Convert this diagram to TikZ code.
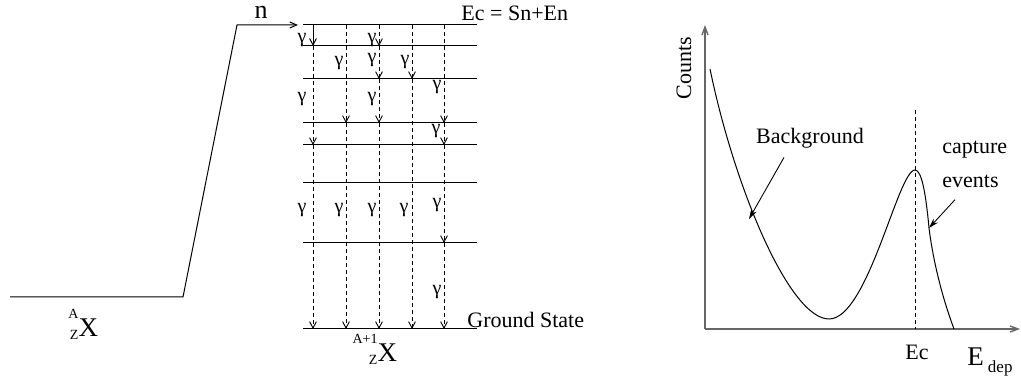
\documentclass[tikz,border=0pt]{standalone}
\usepackage{fontspec}
\setmainfont{Liberation Serif}
\usetikzlibrary{arrows.meta,positioning}

\newcommand{\isotope}[2]{{\fontsize{7}{8}\selectfont\raisebox{-1.5pt}{#2}\llap{\raisebox{9pt}{#1}}}X}

\begin{document}
\begin{tikzpicture}[x=0.5pt,y=-0.5pt,
  lbl/.style={font=\fontsize{11}{13}\selectfont,inner sep=0pt},
  gam/.style={font=\fontsize{10}{11}\selectfont,inner sep=0pt},
  level/.style={line width=0.5pt},
  gtrans/.style={line width=0.45pt,dash pattern=on 2pt off 1.5pt,-{Straight Barb[length=3.2pt,width=3.4pt]}},
  axis/.style={line width=0.7pt,black!60,-{Straight Barb[length=4pt,width=3pt]}},
  ptr/.style={line width=0.45pt,-{Stealth[length=5pt,width=3pt]}}]
\useasboundingbox (0,0) rectangle (1021,378);

% Target nucleus and incoming neutron
\coordinate (bw) at (10,297);
\coordinate (be) at (183,297);
\coordinate (bt) at (237,25);
\coordinate (nt) at (298,25);
\draw[level,-{Straight Barb[length=3.5pt,width=3pt]}] (bw) -- (be) -- (bt) -- (nt);
\node[font=\fontsize{13}{15}\selectfont,inner sep=0pt] (n) at (261,12) {n};
\node[font=\fontsize{13.5}{16}\selectfont,inner sep=0pt] (tgt) at (84,324) {\isotope{A}{Z}};

% Levels of the compound nucleus
\coordinate (L1) at (303,25);
\coordinate (L2) at (303,46);
\coordinate (L3) at (303,79);
\coordinate (L4) at (303,123);
\coordinate (L5) at (303,145);
\coordinate (L6) at (303,183);
\coordinate (L7) at (303,243);
\coordinate (L8) at (303,329);
\draw[level] (L1) -- ++(174,0);
\draw[level] (L2) -- ++(174,0);
\draw[level] (L3) -- ++(174,0);
\draw[level] (L4) -- ++(174,0);
\draw[level] (L5) -- ++(174,0);
\draw[level] (L6) -- ++(174,0);
\draw[level] (L7) -- ++(174,0);
\draw[level] (L8) -- ++(174,0);
\node[lbl,anchor=west] (ec) at (461,13) {Ec = Sn+En};
\node[lbl,anchor=west] (gs) at (467,320) {Ground State};
\node[font=\fontsize{13.5}{16}\selectfont,inner sep=0pt] (cmp) at (383,349) {\isotope{A+1}{Z}};

% Gamma cascades
\coordinate (c1) at (313,0);
\coordinate (c2) at (346,0);
\coordinate (c3) at (379,0);
\coordinate (c4) at (412,0);
\coordinate (c5) at (444,0);
\draw[level,-{Straight Barb[length=3.2pt,width=3.4pt]}] (c1|-L1) -- (c1|-L2);
\draw[gtrans] (c1|-L2) -- (c1|-L5);
\draw[gtrans] (c1|-L5) -- (c1|-L8);
\draw[gtrans] (c2|-L1) -- (c2|-L4);
\draw[gtrans] (c2|-L4) -- (c2|-L8);
\draw[gtrans] (c3|-L1) -- (c3|-L2);
\draw[gtrans] (c3|-L2) -- (c3|-L3);
\draw[gtrans] (c3|-L3) -- (c3|-L4);
\draw[gtrans] (c3|-L4) -- (c3|-L8);
\draw[gtrans] (c4|-L1) -- (c4|-L3);
\draw[gtrans] (c4|-L3) -- (c4|-L8);
\draw[gtrans] (c5|-L1) -- (c5|-L4);
\draw[gtrans] (c5|-L4) -- (c5|-L5);
\draw[gtrans] (c5|-L5) -- (c5|-L7);
\draw[gtrans] (c5|-L7) -- (c5|-L8);
\node[gam] (g1a) at (302,40) {γ};
\node[gam] (g3a) at (372,40) {γ};
\node[gam] (g2a) at (339,63) {γ};
\node[gam] (g3b) at (372,60) {γ};
\node[gam] (g4a) at (405,62) {γ};
\node[gam] (g1b) at (302,99) {γ};
\node[gam] (g3c) at (372,99) {γ};
\node[gam] (g5a) at (437,87) {γ};
\node[gam] (g5b) at (436,131) {γ};
\node[gam] (g1c) at (302,210) {γ};
\node[gam] (g2b) at (339,210) {γ};
\node[gam] (g3d) at (372,210) {γ};
\node[gam] (g4b) at (404,210) {γ};
\node[gam] (g5c) at (437,205) {γ};
\node[gam] (g5d) at (437,292) {γ};

% Deposited energy spectrum
\coordinate (O) at (705,329);
\coordinate (ytop) at (705,25);
\coordinate (xend) at (1020,329);
\draw[axis] (O) -- (ytop);
\draw[axis] (O) -- (xend);
\node[lbl,rotate=90] (counts) at (684,68) {Counts};
\coordinate (cs) at (710,69);
\coordinate (cmin) at (829,319);
\coordinate (cpk) at (915,170);
\coordinate (cr) at (929,228);
\coordinate (ce) at (954,329);
\draw[level] (cs) .. controls (735,190) and (790,319) .. (cmin)
  .. controls (868,319) and (898,170) .. (cpk)
  .. controls (922,170) and (926,196) .. (cr)
  .. controls (934,268) and (945,305) .. (ce);
\coordinate (ectop) at (915,110);
\draw[level,dash pattern=on 2pt off 1.5pt] (ectop) -- (ectop|-O);
\node[lbl] (bg) at (810,138) {Background};
\coordinate (bgtip) at (749,219);
\draw[ptr] ([xshift=-13pt,yshift=-4.5pt]bg.south) -- (bgtip);
\node[lbl,anchor=west] (capture) at (942,150) {capture};
\node[lbl,anchor=west] (events) at (942,181) {events};
\draw[ptr] ([xshift=6.5pt,yshift=-6pt]events.south west) -- (cr);
\node[lbl] (eclbl) at (917,352) {Ec};
\node[inner sep=0pt] (edep) at (990,362) {{\fontsize{13.5}{16}\selectfont E}\hspace{2pt}\raisebox{-3.5pt}{\fontsize{8.5}{10}\selectfont dep}};
\end{tikzpicture}
\end{document}
